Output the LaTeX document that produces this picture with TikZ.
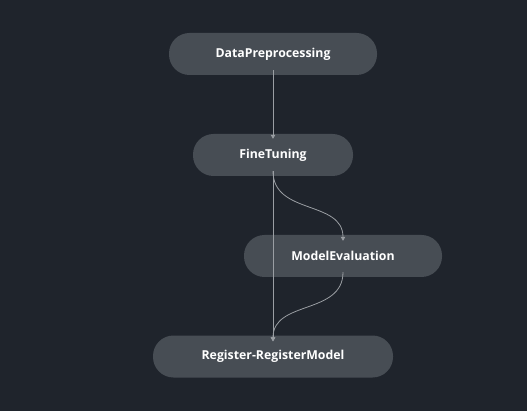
\documentclass[tikz,border=0pt]{standalone}
\usepackage{fontspec}
\setmainfont{Open Sans}
\usetikzlibrary{arrows.meta}
\definecolor{bg}{HTML}{1F242C}
\definecolor{nodefill}{HTML}{474D54}
\definecolor{edge}{HTML}{9A9EA3}
\begin{document}
\begin{tikzpicture}[x=1pt,y=-1pt,
  stepbox/.style={draw=none,fill=nodefill,rounded corners=20.5pt,minimum height=42pt,
    text=white,font=\fontsize{12.3}{14}\selectfont\bfseries,inner sep=0pt},
  conn/.style={draw=edge,line width=0.8pt,-{Triangle[length=4pt,width=4.5pt]}}]
\fill[bg] (0,0) rectangle (527,411);
\useasboundingbox (0,0) rectangle (527,411);
\node[stepbox,minimum width=208pt] (dp) at (273,54) {DataPreprocessing};
\node[stepbox,minimum width=160pt] (ft) at (273,155) {FineTuning};
\node[stepbox,minimum width=198pt] (me) at (343,256) {ModelEvaluation};
\node[stepbox,minimum width=240pt] (rr) at (273,356.5) {Register-RegisterModel};
\coordinate (ftb) at ([yshift=5pt]ft.south);
\coordinate (meb) at ([yshift=5pt]me.south);
\draw[conn] ([yshift=5pt]dp.south) -- ([yshift=-5pt]ft.north);
\draw[conn] (ftb) -- ([yshift=-6pt]rr.north);
\draw[conn] (ftb) .. controls (273,215) and (343,200) .. ([yshift=-6pt]me.north);
\draw[conn] (meb) .. controls (343,315) and (273,300) .. ([yshift=-6pt]rr.north);
\end{tikzpicture}
\end{document}
